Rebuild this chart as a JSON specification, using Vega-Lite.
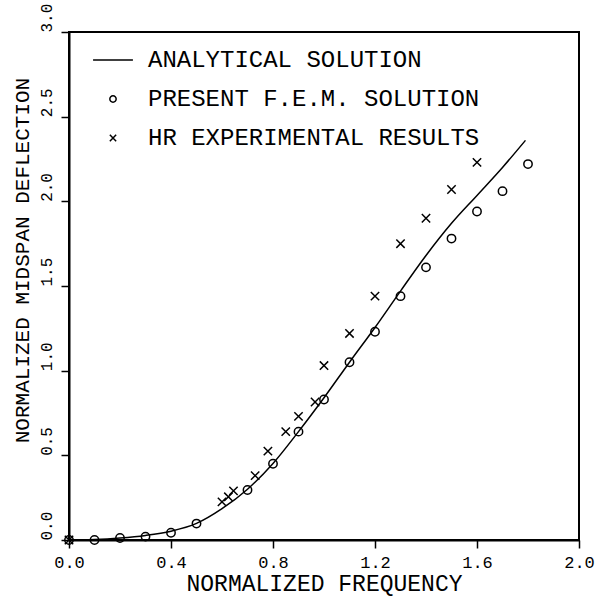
{
  "$schema": "https://vega.github.io/schema/vega-lite/v6.json",
  "width": 510,
  "height": 508,
  "autosize": {"type": "none"},
  "padding": {"left": 69, "top": 32, "right": 22, "bottom": 58},
  "background": "white",
  "config": {
    "font": "Liberation Mono",
    "view": {"stroke": "black", "strokeWidth": 2},
    "axis": {
      "grid": false,
      "domainColor": "black",
      "domainWidth": 2,
      "tickColor": "black",
      "tickWidth": 1.5,
      "tickSize": 8,
      "labelColor": "black",
      "titleColor": "black",
      "labelFont": "Liberation Mono",
      "titleFont": "Liberation Mono",
      "titleFontWeight": "normal",
      "labelFlush": false,
      "labelOverlap": false
    },
    "legend": {
      "labelFont": "Liberation Mono",
      "labelFontSize": 24,
      "labelColor": "black"
    }
  },
  "datasets": {
    "analytical": [
      {"f": 0.0, "d": 0.0},
      {"f": 0.1, "d": 0.003},
      {"f": 0.2, "d": 0.012},
      {"f": 0.3, "d": 0.027},
      {"f": 0.4, "d": 0.052},
      {"f": 0.5, "d": 0.098},
      {"f": 0.6, "d": 0.185},
      {"f": 0.7, "d": 0.3},
      {"f": 0.8, "d": 0.452},
      {"f": 0.9, "d": 0.64},
      {"f": 1.0, "d": 0.84},
      {"f": 1.1, "d": 1.05},
      {"f": 1.2, "d": 1.255},
      {"f": 1.3, "d": 1.47},
      {"f": 1.4, "d": 1.68},
      {"f": 1.5, "d": 1.87},
      {"f": 1.6, "d": 2.035},
      {"f": 1.7, "d": 2.2},
      {"f": 1.79, "d": 2.36}
    ],
    "points": [
      {"series": "PRESENT F.E.M. SOLUTION", "f": 0.0, "d": 0.0},
      {"series": "PRESENT F.E.M. SOLUTION", "f": 0.1, "d": 0.0},
      {"series": "PRESENT F.E.M. SOLUTION", "f": 0.2, "d": 0.012},
      {"series": "PRESENT F.E.M. SOLUTION", "f": 0.3, "d": 0.02},
      {"series": "PRESENT F.E.M. SOLUTION", "f": 0.4, "d": 0.043},
      {"series": "PRESENT F.E.M. SOLUTION", "f": 0.5, "d": 0.097},
      {"series": "PRESENT F.E.M. SOLUTION", "f": 0.7, "d": 0.295},
      {"series": "PRESENT F.E.M. SOLUTION", "f": 0.8, "d": 0.45},
      {"series": "PRESENT F.E.M. SOLUTION", "f": 0.9, "d": 0.64},
      {"series": "PRESENT F.E.M. SOLUTION", "f": 1.0, "d": 0.83},
      {"series": "PRESENT F.E.M. SOLUTION", "f": 1.1, "d": 1.05},
      {"series": "PRESENT F.E.M. SOLUTION", "f": 1.2, "d": 1.23},
      {"series": "PRESENT F.E.M. SOLUTION", "f": 1.3, "d": 1.44},
      {"series": "PRESENT F.E.M. SOLUTION", "f": 1.4, "d": 1.61},
      {"series": "PRESENT F.E.M. SOLUTION", "f": 1.5, "d": 1.78},
      {"series": "PRESENT F.E.M. SOLUTION", "f": 1.6, "d": 1.94},
      {"series": "PRESENT F.E.M. SOLUTION", "f": 1.7, "d": 2.06},
      {"series": "PRESENT F.E.M. SOLUTION", "f": 1.8, "d": 2.22},
      {"series": "HR EXPERIMENTAL RESULTS", "f": 0.0, "d": 0.0},
      {"series": "HR EXPERIMENTAL RESULTS", "f": 0.6, "d": 0.225},
      {"series": "HR EXPERIMENTAL RESULTS", "f": 0.625, "d": 0.255},
      {"series": "HR EXPERIMENTAL RESULTS", "f": 0.645, "d": 0.29},
      {"series": "HR EXPERIMENTAL RESULTS", "f": 0.73, "d": 0.38},
      {"series": "HR EXPERIMENTAL RESULTS", "f": 0.78, "d": 0.525},
      {"series": "HR EXPERIMENTAL RESULTS", "f": 0.85, "d": 0.64},
      {"series": "HR EXPERIMENTAL RESULTS", "f": 0.9, "d": 0.73},
      {"series": "HR EXPERIMENTAL RESULTS", "f": 0.965, "d": 0.815},
      {"series": "HR EXPERIMENTAL RESULTS", "f": 1.0, "d": 1.03},
      {"series": "HR EXPERIMENTAL RESULTS", "f": 1.1, "d": 1.22},
      {"series": "HR EXPERIMENTAL RESULTS", "f": 1.2, "d": 1.44},
      {"series": "HR EXPERIMENTAL RESULTS", "f": 1.3, "d": 1.75},
      {"series": "HR EXPERIMENTAL RESULTS", "f": 1.4, "d": 1.9},
      {"series": "HR EXPERIMENTAL RESULTS", "f": 1.5, "d": 2.07},
      {"series": "HR EXPERIMENTAL RESULTS", "f": 1.6, "d": 2.23}
    ]
  },
  "encoding": {
    "x": {
      "field": "f",
      "type": "quantitative",
      "scale": {"domain": [0, 2], "nice": false, "zero": false},
      "axis": {
        "title": "NORMALIZED FREQUENCY",
        "values": [0, 0.4, 0.8, 1.2, 1.6, 2.0],
        "format": ".1f",
        "labelFontSize": 17,
        "labelPadding": 6,
        "labelDx": 6,
        "titleFontSize": 23,
        "titlePadding": 2
      }
    },
    "y": {
      "field": "d",
      "type": "quantitative",
      "scale": {"domain": [0, 3], "nice": false, "zero": false},
      "axis": {
        "title": "NORMALIZED MIDSPAN DEFLECTION",
        "values": [0, 0.5, 1.0, 1.5, 2.0, 2.5, 3.0],
        "format": ".1f",
        "labelAngle": -90,
        "labelAlign": "left",
        "labelBaseline": "bottom",
        "labelFontSize": 16,
        "labelPadding": 7,
        "titleFontSize": 21,
        "titleAngle": 270,
        "titleAlign": "center",
        "titleBaseline": "middle",
        "titleX": -47,
        "titleY": 228
      }
    }
  },
  "layer": [
    {
      "data": {"name": "analytical"},
      "mark": {"type": "line", "color": "black", "strokeWidth": 1.5, "interpolate": "monotone"},
      "encoding": {}
    },
    {
      "data": {"name": "points"},
      "mark": {"type": "point", "filled": false, "color": "black", "strokeWidth": 1.5, "size": 70, "opacity": 1},
      "encoding": {
        "shape": {
          "field": "series",
          "type": "nominal",
          "scale": {
            "domain": ["ANALYTICAL SOLUTION", "PRESENT F.E.M. SOLUTION", "HR EXPERIMENTAL RESULTS"],
            "range": ["M-6.3,0L6.3,0", "circle", "M-1,-1L1,1M-1,1L1,-1"]
          },
          "legend": {
            "title": null,
            "orient": "none",
            "legendX": 32,
            "legendY": 16,
            "padding": 0,
            "symbolSize": 40,
            "symbolStrokeWidth": 1.5,
            "symbolStrokeColor": "black",
            "symbolFillColor": "transparent",
            "labelOffset": 23,
            "rowPadding": 15,
            "labelLimit": 500
          }
        }
      }
    }
  ]
}
